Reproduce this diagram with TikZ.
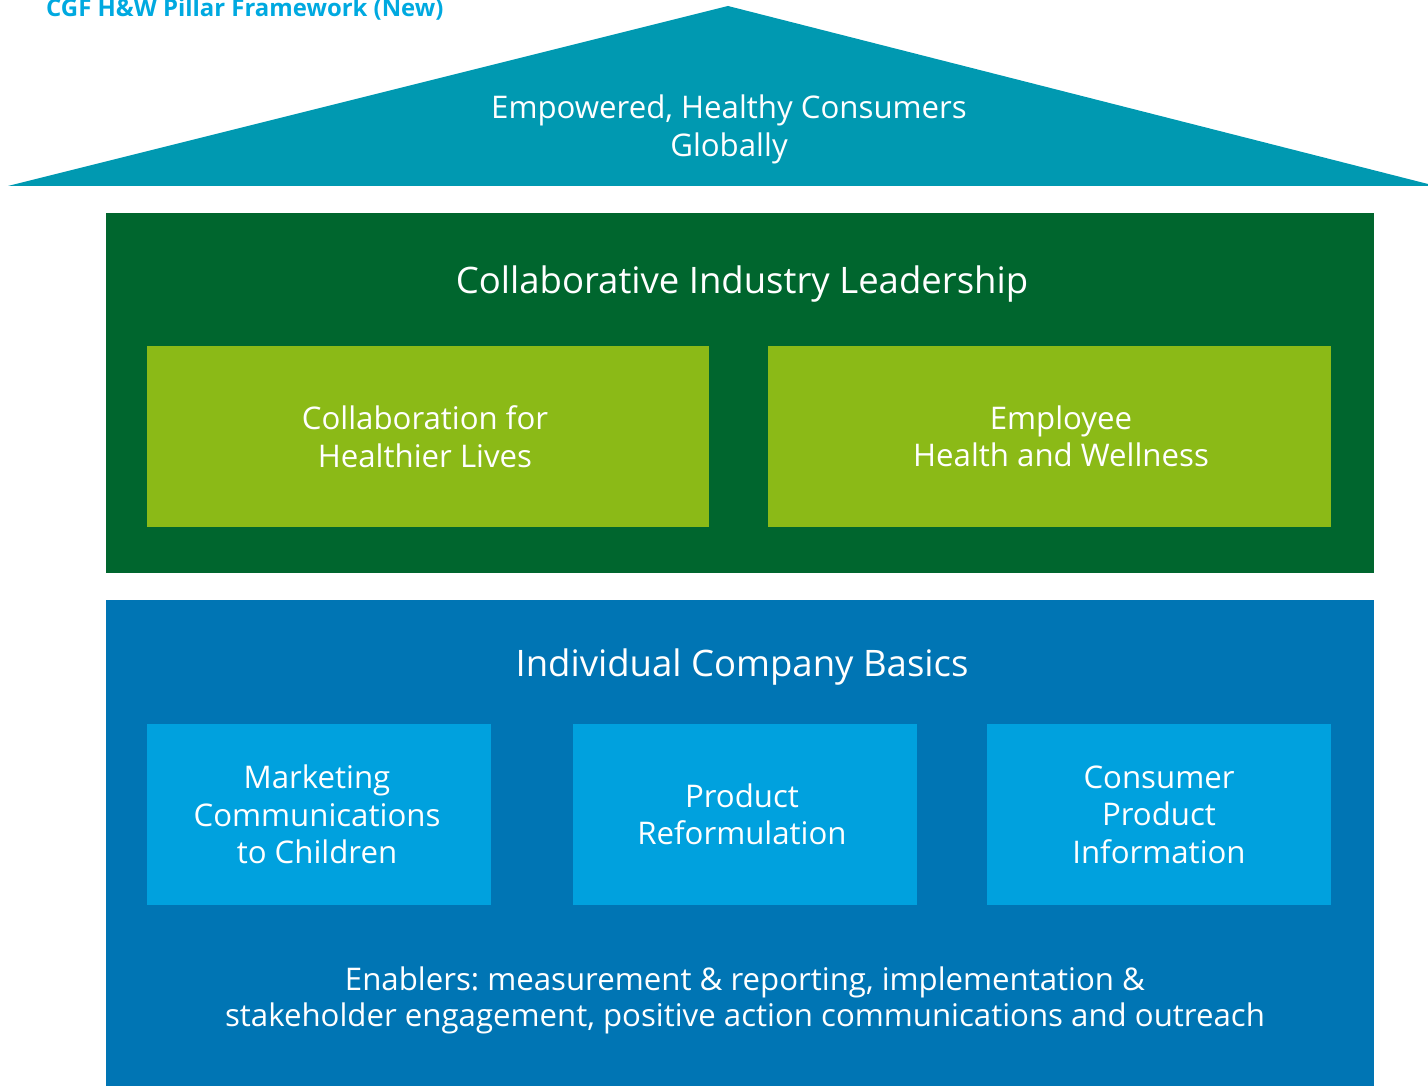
\documentclass[tikz,border=0pt]{standalone}
\usepackage{fontspec}
\setmainfont{Open Sans}
\frenchspacing
\definecolor{roofc}{HTML}{0099B1}
\definecolor{darkg}{HTML}{00662E}
\definecolor{lightg}{HTML}{8BBA17}
\definecolor{darkb}{HTML}{0075B4}
\definecolor{lightb}{HTML}{00A1DE}
\definecolor{titlec}{HTML}{00A9E0}
\tikzset{
  band/.style={draw=none, anchor=north west, inner sep=0pt, outer sep=0pt},
  pillar/.style={draw=none, anchor=north west, inner sep=0pt, outer sep=0pt},
  txt/.style={text=white, align=center, font=\fontsize{31.2}{37.5}\selectfont},
  head/.style={text=white, align=center, font=\fontsize{36.5}{44}\selectfont},
}
\begin{document}
\begin{tikzpicture}[x=1pt,y=-1pt]
\useasboundingbox (0,0) rectangle (1428,1086);
% roof
\coordinate (rl) at (8,186);
\coordinate (ra) at (728,6);
\coordinate (rr) at (1428,184);
\fill[roofc] (rl) -- (ra) -- (rr) -- (1428,186) -- cycle;
\node[txt, font=\fontsize{31.2}{38}\selectfont] (roof) at (729,129) {Empowered, Healthy Consumers\\Globally};
\node[anchor=base west, inner sep=0pt, text=titlec, font=\fontsize{23.9}{28}\bfseries\selectfont] (title) at (46,17) {CGF H\&W Pillar Framework (New)};
% green band
\node[band, fill=darkg, minimum width=1268, minimum height=360] (green) at (106,213) {};
\node[head] (cil) at (742,284) {Collaborative Industry Leadership};
\node[pillar, fill=lightg, minimum width=562, minimum height=181] (p1) at (147,346) {};
\node[txt] at ([xshift=-3]p1.center) {Collaboration for\\Healthier Lives};
\node[pillar, fill=lightg, minimum width=563, minimum height=181] (p2) at (768,346) {};
\node[txt] at ([xshift=11.5]p2.center) {Employee\\Health and Wellness};
% blue band
\node[band, fill=darkb, minimum width=1268, minimum height=486] (blue) at (106,600) {};
\node[head] (icb) at (742,667) {Individual Company Basics};
\node[pillar, fill=lightb, minimum width=344, minimum height=181] (b1) at (147,724) {};
\node[txt] at ([xshift=-2]b1.center) {Marketing\\Communications\\to Children};
\node[pillar, fill=lightb, minimum width=344, minimum height=181] (b2) at (573,724) {};
\node[txt] at ([xshift=-3]b2.center) {Product\\Reformulation};
\node[pillar, fill=lightb, minimum width=344, minimum height=181] (b3) at (987,724) {};
\node[txt] at (b3.center) {Consumer\\Product\\Information};
\node[txt, font=\fontsize{31.2}{36}\selectfont] (en) at (745,1000) {Enablers: measurement \& reporting, implementation \&\\stakeholder engagement, positive action communications and outreach};
\end{tikzpicture}
\end{document}
